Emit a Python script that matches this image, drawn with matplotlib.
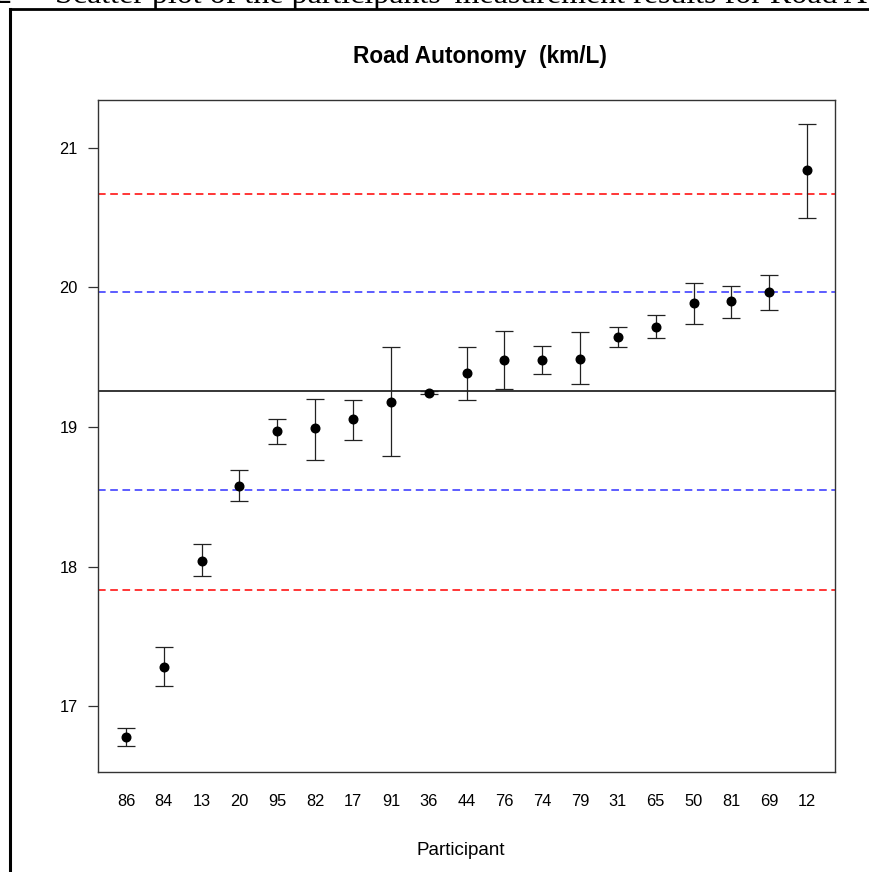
import matplotlib
matplotlib.use("Agg")
import matplotlib.pyplot as plt
from matplotlib.lines import Line2D
import numpy as np

participants = ["86", "84", "13", "20", "95", "82", "17", "91", "36", "44",
                "76", "74", "79", "31", "65", "50", "81", "69", "12"]
means = [16.78, 17.28, 18.04, 18.58, 18.97, 18.99, 19.06, 19.18, 19.245, 19.39,
         19.48, 19.48, 19.49, 19.645, 19.72, 19.89, 19.90, 19.97, 20.84]
upper = [16.84, 17.42, 18.16, 18.69, 19.06, 19.20, 19.19, 19.57, 19.26, 19.57,
         19.69, 19.58, 19.68, 19.72, 19.80, 20.03, 20.01, 20.09, 21.17]
lower = [16.71, 17.14, 17.93, 18.47, 18.88, 18.76, 18.91, 18.79, 19.235, 19.19,
         19.27, 19.38, 19.31, 19.57, 19.64, 19.74, 19.78, 19.84, 20.50]
center_value = 19.255
inner_limits = [18.545, 19.965]
outer_limits = [17.835, 20.67]
yticks = [17, 18, 19, 20, 21]

plt.rcParams['font.family'] = ['Liberation Sans', 'DejaVu Sans']

W, H = 869, 872
fig = plt.figure(figsize=(W / 100, H / 100), dpi=100)
ax = fig.add_axes([98 / W, 1 - 772 / H, (835 - 98) / W, (772 - 100) / H])

x = np.arange(1, len(participants) + 1)
m = np.array(means)
yerr = np.vstack([m - np.array(lower), np.array(upper) - m])

ax.axhline(center_value, color='black', lw=1.1, zorder=1)
for v in inner_limits:
    ax.axhline(v, color='#3030ff', lw=1.1, ls=(0, (5, 3)), zorder=1)
for v in outer_limits:
    ax.axhline(v, color='#ff0000', lw=1.1, ls=(0, (5, 3)), zorder=1)

ax.errorbar(x, m, yerr=yerr, fmt='o', color='black', ms=6.2, capsize=6.5,
            elinewidth=0.9, capthick=0.9, ecolor='#222222', zorder=3)

ax.set_xlim(0.26, 19.74)
ax.set_ylim(16.527, 21.344)
ax.set_xticks(x)
ax.set_xticklabels(participants, fontsize=11.8)
ax.set_yticks(yticks)
ax.set_yticklabels([str(t) for t in yticks], fontsize=11.8)
ax.tick_params(axis='x', length=0, pad=16)
ax.tick_params(axis='y', length=7.2, width=0.9, pad=7.5, color='#333333')
for s in ax.spines.values():
    s.set_linewidth(1.0)
    s.set_color('#333333')

fig.text(480 / W, 1 - 56 / H, "Road Autonomy  (km/L)", ha='center', va='center',
         fontsize=16.3, fontweight='bold')
fig.text(461 / W, 1 - 850 / H, "Participant", ha='center', va='center', fontsize=13.5)

# partially visible caption from the page above (cut off, as in the source)
serif = ['Liberation Serif', 'DejaVu Serif']
fig.text(-4 / W, 1 - 3 / H, "2", ha='left', va='baseline', fontsize=23, family=serif)
fig.text(55 / W, 1 - 3 / H,
         "Scatter plot of the participants' measurement results for Road Autonomy",
         ha='left', va='baseline', fontsize=23, family=serif)

# page frame
fig.add_artist(Line2D([9.5 / W, 9.5 / W], [1 - 9.5 / H, -0.01], transform=fig.transFigure,
                      color='black', lw=2.2))
fig.add_artist(Line2D([9.5 / W, 1.01], [1 - 9.5 / H, 1 - 9.5 / H], transform=fig.transFigure,
                      color='black', lw=2.0))

fig.savefig("out.png", dpi=100)
